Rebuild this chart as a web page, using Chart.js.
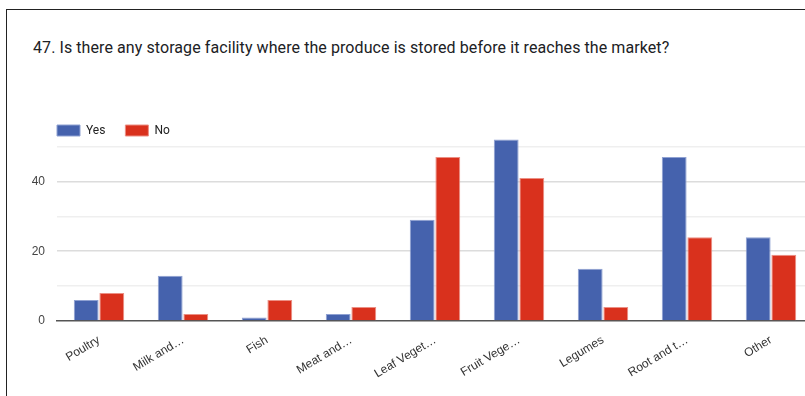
<!DOCTYPE html>
<html>
<head>
<meta charset="utf-8">
<script src="https://cdn.jsdelivr.net/npm/chart.js@4.4.1/dist/chart.umd.min.js"></script>
<style>
  html, body { margin: 0; padding: 0; background: #fff; overflow: hidden; }
  #card { position: absolute; left: 6px; top: 9px; width: 900px; height: 500px; border: 1.5px solid #222; }
  #title { position: absolute; left: 33px; top: 38px; line-height: 20px; font-family: Roboto, sans-serif; font-size: 16px; letter-spacing: 0.08px; color: #202124; white-space: nowrap; }
  #wrap { position: absolute; left: 0; top: 0; width: 813px; height: 396px; }
</style>
</head>
<body>
<div id="card"></div>
<div id="title">47. Is there any storage facility where the produce is stored before it reaches the market?</div>
<div id="wrap"><canvas id="storageChart"></canvas></div>
<script>
const categories = ['Poultry', 'Milk and…', 'Fish', 'Meat and…', 'Leaf Veget…', 'Fruit Vege…', 'Legumes', 'Root and t…', 'Other'];
const yesValues = [6, 13, 1, 2, 29, 52, 15, 47, 24];
const noValues = [8, 2, 6, 4, 47, 41, 4, 24, 19];
const yTickLabels = [0, 20, 40];

const axisFont = { family: '"Liberation Sans", Arial, sans-serif', size: 12 };

// nudge the legend so it lines up with the plot's left edge
const legendShift = {
    id: 'legendShift',
    afterLayout: function (chart) {
        chart.legend.left += 6;
        chart.legend.right += 6;
    }
};

const ctx = document.getElementById('storageChart').getContext('2d');
const storageChart = new Chart(ctx, {
    type: 'bar',
    data: {
        labels: categories,
        datasets: [{
            label: 'Yes',
            data: yesValues,
            backgroundColor: '#4562ad',
            borderColor: '#8fa1d2',
            borderWidth: 1,
            clip: false
        }, {
            label: 'No',
            data: noValues,
            backgroundColor: '#d9311d',
            borderColor: '#ec8f84',
            borderWidth: 1,
            clip: false
        }]
    },
    options: {
        responsive: true,
        maintainAspectRatio: false,
        animation: false,
        layout: {
            padding: { left: 31, top: 104.5, right: 0, bottom: 0 }
        },
        datasets: {
            bar: {
                categoryPercentage: 0.61,
                barPercentage: 0.97
            }
        },
        plugins: {
            title: { display: false },
            legend: {
                position: 'top',
                align: 'start',
                labels: {
                    boxWidth: 23,
                    boxHeight: 11,
                    padding: 20,
                    color: '#222',
                    font: { family: 'Roboto', size: 12 }
                }
            }
        },
        scales: {
            x: {
                grid: { display: false },
                border: { display: true, color: '#555', width: 1.5 },
                ticks: {
                    autoSkip: false,
                    minRotation: 31,
                    maxRotation: 31,
                    color: '#333',
                    font: axisFont,
                    padding: 4
                },
                afterFit: function (scale) {
                    scale.height = 75;
                }
            },
            y: {
                min: 0,
                max: 50,
                border: { display: false },
                grid: {
                    drawTicks: false,
                    color: function (context) {
                        if (context.tick.value === 0) return 'rgba(0,0,0,0)';
                        return context.tick.value % 20 === 0 ? '#dcdcdc' : '#efefef';
                    },
                    lineWidth: 1.5
                },
                ticks: {
                    stepSize: 10,
                    padding: 12,
                    color: '#444',
                    font: axisFont,
                    callback: function (value) {
                        return yTickLabels.includes(value) ? value : '';
                    }
                },
                afterFit: function (scale) {
                    scale.width = 26;
                }
            }
        }
    },
    plugins: [legendShift]
});
</script>
</body>
</html>
